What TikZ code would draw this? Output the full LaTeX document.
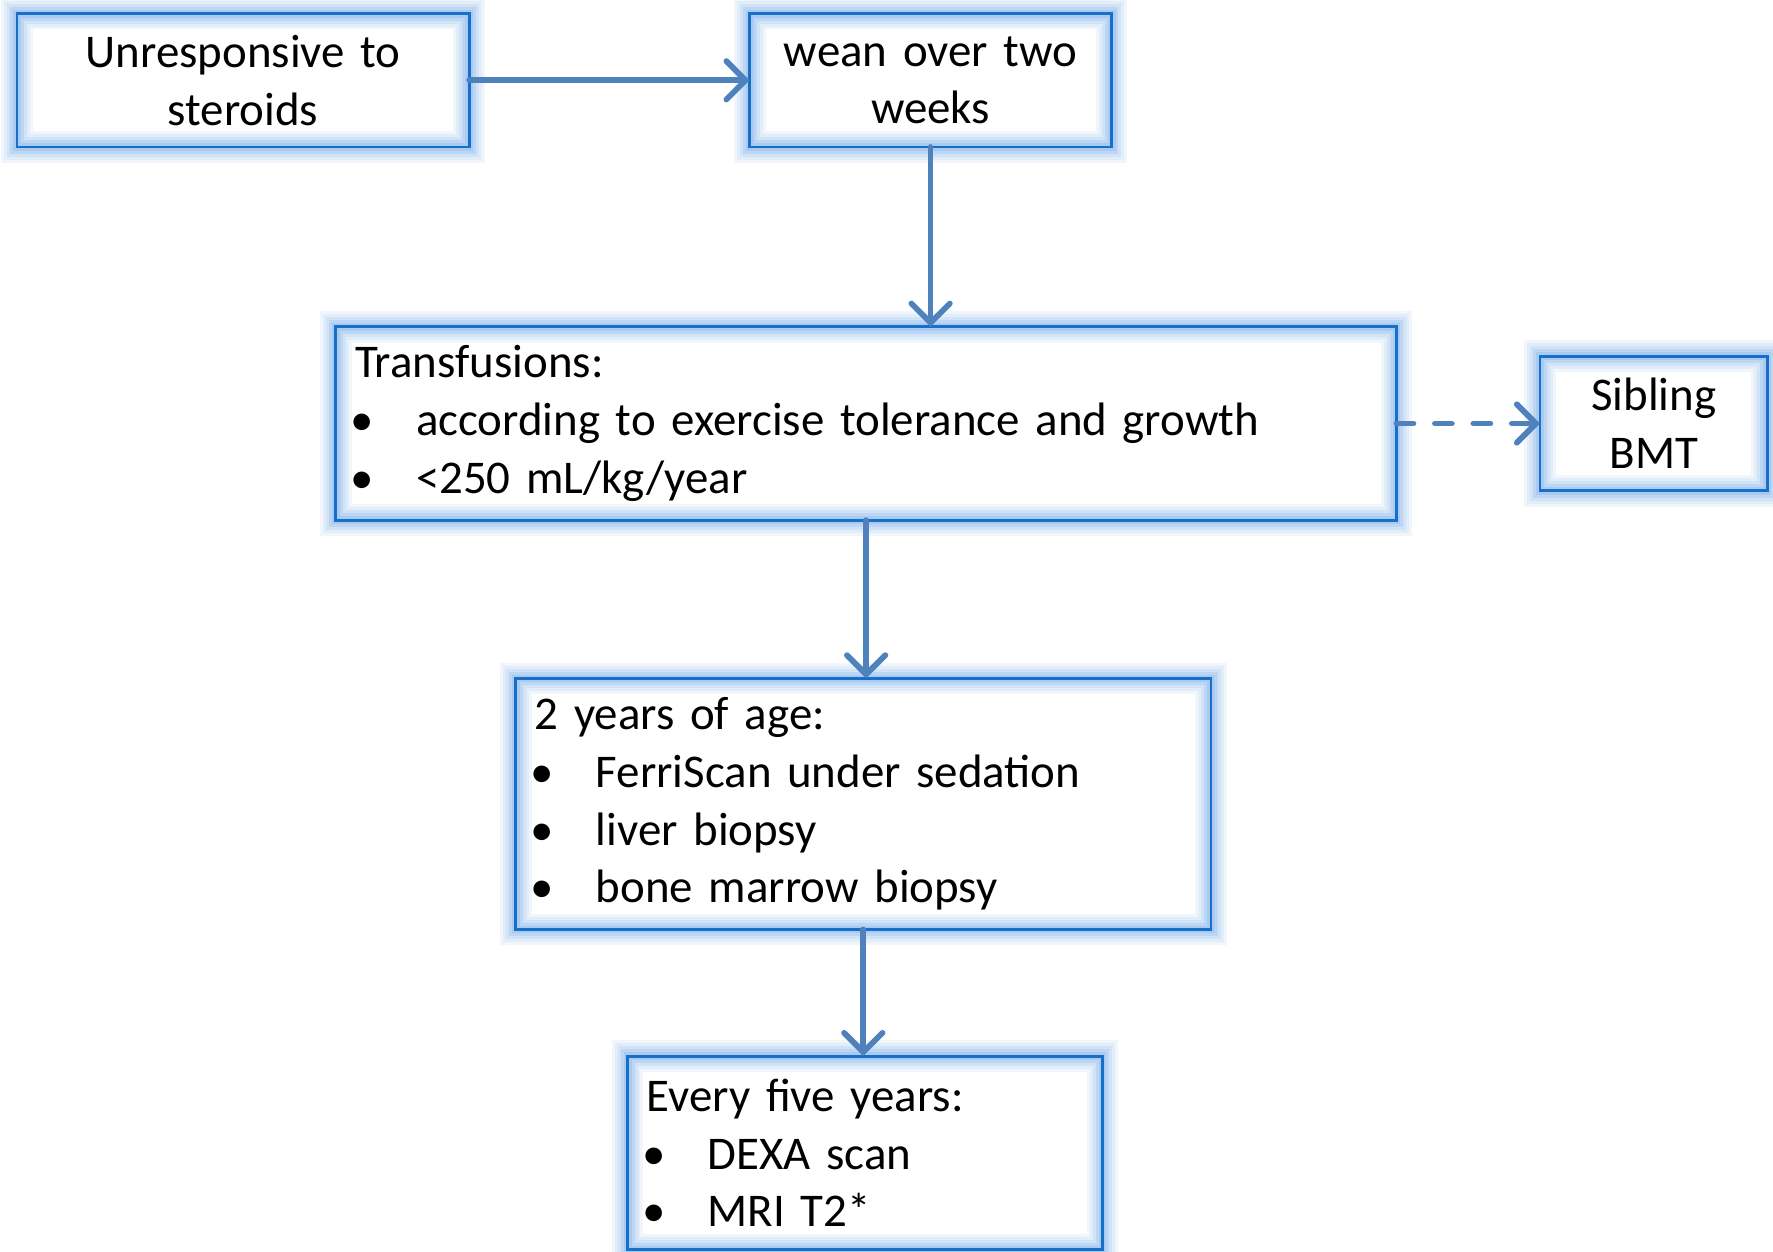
\documentclass[tikz,border=0pt]{standalone}
\usepackage{fontspec}
\setmainfont{Carlito}
\usepackage{tikz}
\usetikzlibrary{positioning,arrows.meta}
\usepackage{xcolor}
\definecolor{boxline}{HTML}{1470C8}
\definecolor{glow}{HTML}{8DB8EC}
\definecolor{flow}{HTML}{4F81BD}
\newcommand{\bul}{\hspace*{-0.04cm}\makebox[0.58cm][l]{\textbullet}}

\begin{document}
\begin{tikzpicture}[->, >={Straight Barb[length=1.7mm, width=3.4mm, line cap=round]}, node distance = 1.5cm,
        every node/.style={font=\fontsize{11.8pt}{14.5pt}\selectfont},
        stepbox/.style={rectangle, draw=boxline, line width=0.7pt, inner xsep=0.17cm, inner ysep=0pt, outer sep=0pt,
            preaction={draw=glow, line width=8pt, opacity=0.12, rounded corners=3pt},
            preaction={draw=glow, line width=6.5pt, opacity=0.15},
            preaction={draw=glow, line width=5pt, opacity=0.2},
            preaction={draw=glow, line width=3.5pt, opacity=0.3},
            preaction={draw=glow, line width=2pt, opacity=0.4}},
        link/.style={draw=flow, line width=1.45pt, line cap=round}]
        \useasboundingbox (0,0) rectangle (15.68,-11.07);

        \node[stepbox, text width=3.66cm, minimum height=1.18cm, align=center] (unresp) at (2.15,-0.71) {Unresponsive to\\ steroids};
        \node[stepbox, text width=2.86cm, minimum height=1.18cm, align=center] (wean) [right=2.48cm of unresp] {wean over two\\ weeks};
        \node[stepbox, text width=9.04cm, minimum height=1.71cm, align=left] (transf) [below=1.59cm of wean.south, anchor=north, xshift=-0.57cm]
            {Transfusions:\\ \bul according to exercise tolerance and growth\\ \bul <250 mL/kg/year};
        \node[stepbox, text width=1.67cm, minimum height=1.19cm, align=center] (bmt) [right=1.27cm of transf] {Sibling\\ BMT};
        \node[stepbox, text width=5.81cm, minimum height=2.22cm, align=left] (age) [below=1.40cm of transf.south, anchor=north, xshift=-0.025cm]
            {2 years of age:\\ \bul FerriScan under sedation\\ \bul liver biopsy\\ \bul bone marrow biopsy};
        \node[stepbox, text width=3.86cm, minimum height=1.71cm, align=left] (five) [below=1.12cm of age.south, anchor=north, xshift=0.015cm]
            {Every five years:\\ \bul DEXA scan\\ \bul MRI T2*};

        \path (unresp) edge [link] (wean)
              (wean) edge [link] (wean |- transf.north)
              (transf) edge [link, dash pattern=on 1.5mm off 1.9mm] (bmt)
              (transf.south) edge [link] (transf.south |- age.north)
              (age.south) edge [link] (age.south |- five.north);
    \end{tikzpicture}
\end{document}
